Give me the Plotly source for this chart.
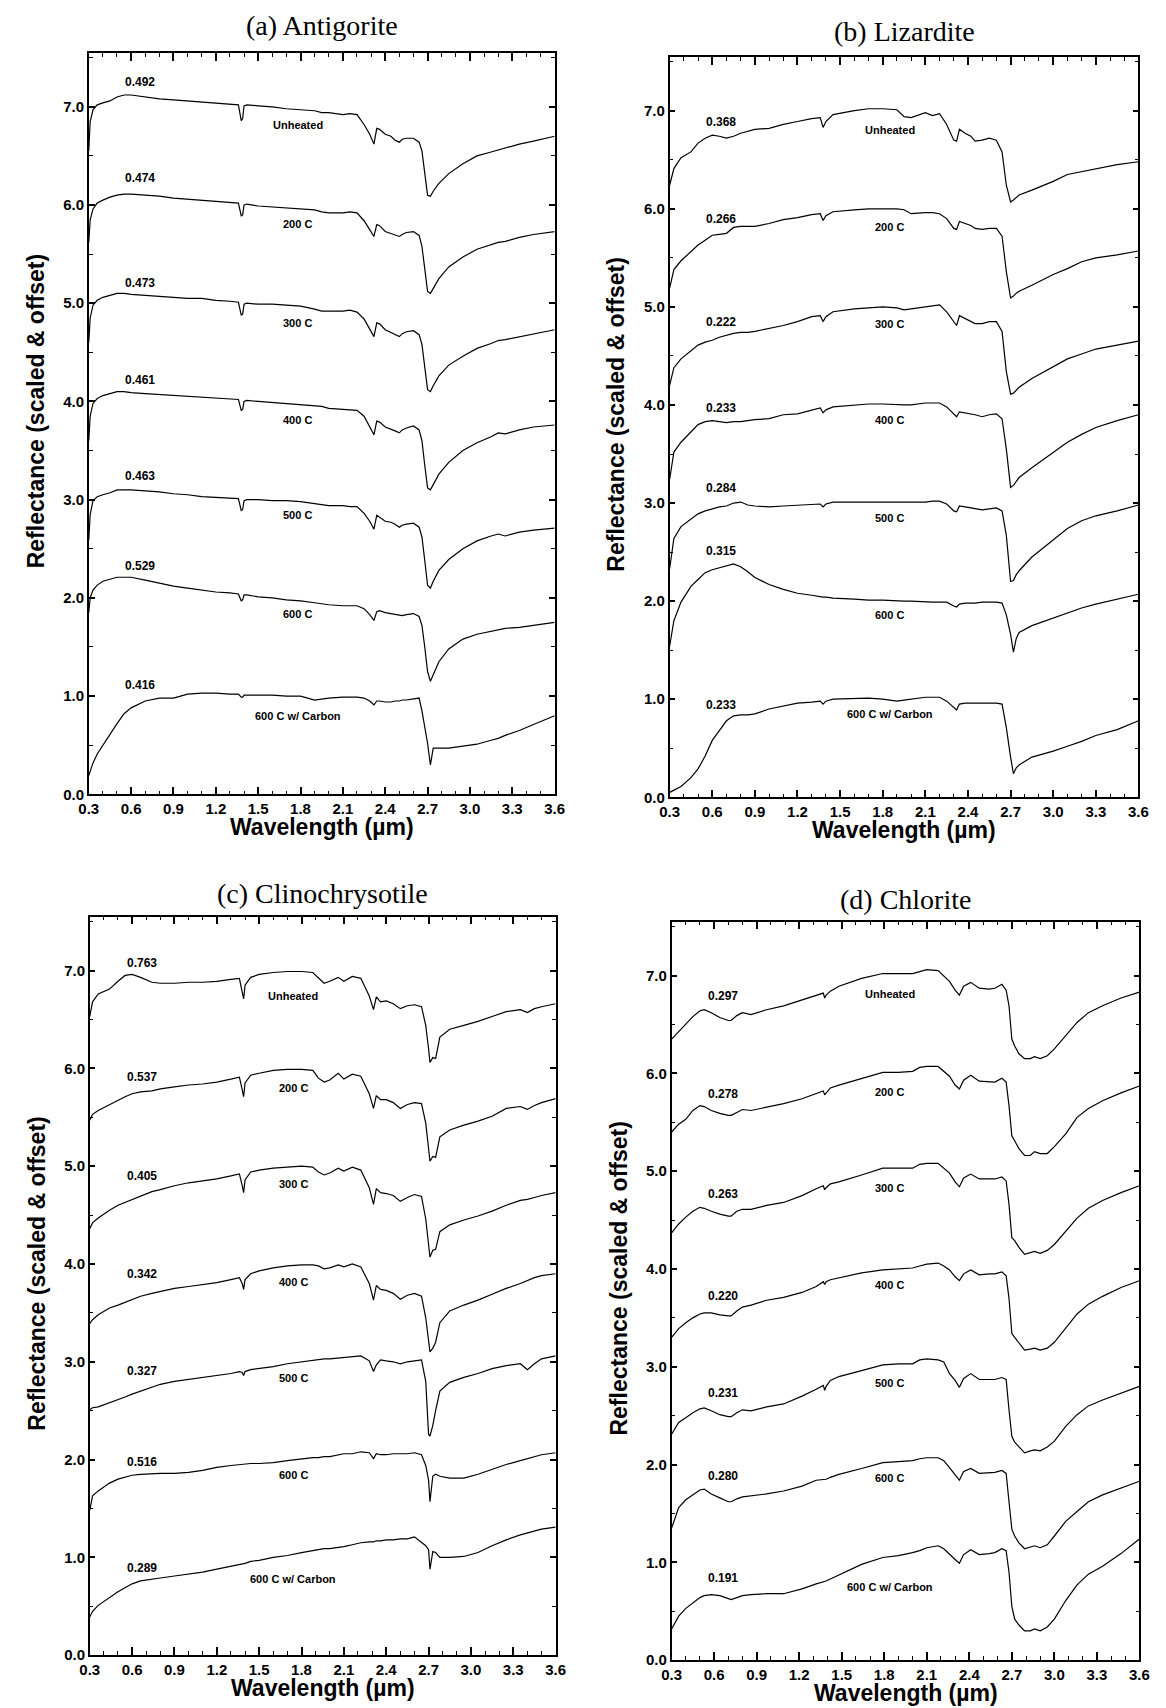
import plotly.graph_objects as go

# ---------------- data ----------------
TEMPS = ["Unheated", "200 C", "300 C", "400 C", "500 C", "600 C", "600 C w/ Carbon"]

A_WL = [0.30, 0.31, 0.33, 0.36, 0.40, 0.45, 0.50, 0.55, 0.60, 0.70, 0.80, 0.90, 1.00, 1.10, 1.20, 1.30, 1.36, 1.38, 1.39, 1.40,
        1.42, 1.50, 1.60, 1.70, 1.80, 1.90, 1.95, 2.00, 2.10, 2.15, 2.20, 2.25, 2.29, 2.32, 2.34, 2.36, 2.40, 2.44, 2.47, 2.50,
        2.52, 2.55, 2.60, 2.64, 2.66, 2.68, 2.70, 2.72, 2.74, 2.78, 2.85, 2.95, 3.05, 3.15, 3.20, 3.25, 3.35, 3.45, 3.60]
A_UNH = [6.55, 6.85, 6.97, 7.02, 7.04, 7.06, 7.10, 7.12, 7.12, 7.10, 7.08, 7.07, 7.06, 7.05, 7.04, 7.03, 7.02, 6.86, 6.88, 7.01,
         7.02, 7.01, 7.00, 6.98, 6.97, 6.96, 6.94, 6.94, 6.92, 6.93, 6.92, 6.82, 6.72, 6.62, 6.78, 6.77, 6.72, 6.70, 6.66, 6.64,
         6.67, 6.68, 6.68, 6.64, 6.55, 6.30, 6.10, 6.09, 6.14, 6.22, 6.32, 6.42, 6.50, 6.54, 6.56, 6.58, 6.62, 6.65, 6.70]
A_200 = [5.62, 5.85, 5.96, 6.02, 6.05, 6.08, 6.10, 6.11, 6.11, 6.10, 6.09, 6.07, 6.06, 6.05, 6.04, 6.03, 6.02, 5.89, 5.90, 6.00,
         6.01, 5.99, 5.98, 5.97, 5.96, 5.95, 5.93, 5.92, 5.92, 5.93, 5.92, 5.84, 5.75, 5.68, 5.80, 5.79, 5.73, 5.71, 5.69, 5.68,
         5.70, 5.72, 5.73, 5.69, 5.58, 5.35, 5.12, 5.10, 5.15, 5.25, 5.37, 5.47, 5.55, 5.60, 5.62, 5.63, 5.67, 5.70, 5.73]
A_300 = [4.60, 4.85, 4.98, 5.03, 5.06, 5.08, 5.10, 5.10, 5.09, 5.08, 5.07, 5.06, 5.05, 5.05, 5.03, 5.02, 5.01, 4.88, 4.89, 4.99,
         5.00, 4.99, 4.99, 4.98, 4.97, 4.94, 4.92, 4.92, 4.92, 4.93, 4.91, 4.84, 4.74, 4.66, 4.80, 4.79, 4.73, 4.70, 4.68, 4.66,
         4.69, 4.71, 4.72, 4.68, 4.58, 4.35, 4.12, 4.10, 4.16, 4.26, 4.37, 4.46, 4.54, 4.59, 4.62, 4.63, 4.66, 4.69, 4.73]
A_400 = [3.60, 3.85, 3.98, 4.03, 4.06, 4.08, 4.10, 4.10, 4.09, 4.08, 4.07, 4.06, 4.05, 4.04, 4.03, 4.02, 4.02, 3.91, 3.92, 4.00,
         4.01, 4.00, 3.99, 3.98, 3.97, 3.96, 3.95, 3.93, 3.92, 3.92, 3.91, 3.85, 3.75, 3.66, 3.80, 3.79, 3.74, 3.72, 3.70, 3.68,
         3.71, 3.73, 3.75, 3.71, 3.60, 3.35, 3.12, 3.10, 3.15, 3.26, 3.38, 3.50, 3.58, 3.64, 3.68, 3.67, 3.71, 3.74, 3.76]
A_500 = [2.59, 2.85, 2.99, 3.03, 3.05, 3.07, 3.10, 3.10, 3.10, 3.09, 3.08, 3.06, 3.05, 3.03, 3.02, 3.01, 3.01, 2.89, 2.90, 2.99,
         3.00, 3.00, 2.99, 2.99, 2.98, 2.96, 2.95, 2.94, 2.94, 2.93, 2.93, 2.86, 2.78, 2.70, 2.84, 2.82, 2.78, 2.77, 2.75, 2.72,
         2.74, 2.75, 2.76, 2.72, 2.62, 2.38, 2.13, 2.10, 2.17, 2.28, 2.39, 2.50, 2.58, 2.63, 2.65, 2.63, 2.67, 2.69, 2.71]
A_600 = [1.85, 2.00, 2.08, 2.13, 2.17, 2.19, 2.21, 2.21, 2.21, 2.18, 2.15, 2.12, 2.10, 2.08, 2.06, 2.05, 2.04, 1.97, 1.98, 2.03,
         2.03, 2.01, 2.00, 1.98, 1.97, 1.95, 1.94, 1.93, 1.92, 1.92, 1.92, 1.89, 1.83, 1.77, 1.86, 1.87, 1.85, 1.84, 1.83, 1.82,
         1.82, 1.83, 1.84, 1.81, 1.72, 1.50, 1.25, 1.15, 1.22, 1.35, 1.48, 1.58, 1.63, 1.66, 1.67, 1.69, 1.70, 1.72, 1.75]
A_CARB = [0.19, 0.24, 0.32, 0.41, 0.50, 0.62, 0.72, 0.82, 0.88, 0.95, 0.98, 0.98, 1.02, 1.03, 1.03, 1.02, 1.02, 0.99, 0.99, 1.01,
          1.01, 1.01, 1.01, 1.00, 1.00, 0.96, 0.97, 0.98, 0.99, 0.99, 0.99, 0.98, 0.95, 0.91, 0.95, 0.95, 0.94, 0.94, 0.95, 0.95,
          0.96, 0.96, 0.97, 0.98, 0.85, 0.68, 0.52, 0.30, 0.47, 0.47, 0.47, 0.49, 0.51, 0.55, 0.57, 0.60, 0.65, 0.71, 0.80]
A_SCALE = ["0.492", "0.474", "0.473", "0.461", "0.463", "0.529", "0.416"]

B_WL = [0.30, 0.33, 0.38, 0.45, 0.50, 0.55, 0.60, 0.65, 0.70, 0.75, 0.80, 0.85, 0.90, 1.00, 1.10, 1.20, 1.30, 1.36, 1.38, 1.40,
        1.45, 1.60, 1.70, 1.80, 1.90, 1.95, 2.00, 2.10, 2.15, 2.20, 2.25, 2.30, 2.32, 2.34, 2.38, 2.42, 2.45, 2.50, 2.55, 2.60,
        2.64, 2.67, 2.70, 2.72, 2.74, 2.76, 2.85, 3.00, 3.10, 3.20, 3.30, 3.45, 3.60]
B_UNH = [6.24, 6.41, 6.52, 6.58, 6.67, 6.72, 6.75, 6.74, 6.72, 6.74, 6.77, 6.79, 6.81, 6.82, 6.86, 6.89, 6.92, 6.93, 6.83, 6.89,
         6.96, 7.00, 7.02, 7.02, 7.01, 6.94, 6.93, 6.98, 6.95, 6.97, 6.86, 6.70, 6.69, 6.81, 6.77, 6.74, 6.69, 6.70, 6.72, 6.70,
         6.58, 6.24, 6.07, 6.09, 6.12, 6.14, 6.19, 6.28, 6.35, 6.38, 6.41, 6.45, 6.48]
B_200 = [5.19, 5.38, 5.47, 5.56, 5.63, 5.68, 5.73, 5.74, 5.75, 5.81, 5.82, 5.82, 5.82, 5.85, 5.89, 5.91, 5.94, 5.95, 5.88, 5.93,
         5.97, 5.99, 6.00, 6.00, 6.00, 5.99, 5.95, 5.96, 5.96, 5.95, 5.90, 5.80, 5.79, 5.87, 5.85, 5.83, 5.80, 5.79, 5.80, 5.80,
         5.72, 5.36, 5.09, 5.11, 5.14, 5.16, 5.22, 5.33, 5.39, 5.46, 5.50, 5.53, 5.57]
B_300 = [4.20, 4.38, 4.47, 4.55, 4.61, 4.64, 4.66, 4.69, 4.71, 4.73, 4.74, 4.74, 4.75, 4.78, 4.81, 4.85, 4.90, 4.91, 4.85, 4.90,
         4.95, 4.98, 4.99, 5.00, 4.99, 4.97, 4.98, 5.00, 5.01, 5.02, 4.95, 4.85, 4.81, 4.91, 4.88, 4.85, 4.83, 4.83, 4.85, 4.85,
         4.75, 4.34, 4.11, 4.12, 4.15, 4.18, 4.27, 4.39, 4.47, 4.52, 4.57, 4.61, 4.65]
B_400 = [3.24, 3.52, 3.62, 3.72, 3.80, 3.83, 3.84, 3.83, 3.82, 3.83, 3.83, 3.84, 3.85, 3.86, 3.90, 3.91, 3.95, 3.97, 3.92, 3.95,
         3.98, 4.00, 4.01, 4.01, 4.00, 4.00, 4.00, 4.02, 4.02, 4.02, 3.98, 3.91, 3.88, 3.93, 3.92, 3.91, 3.90, 3.88, 3.90, 3.91,
         3.86, 3.55, 3.16, 3.18, 3.22, 3.26, 3.36, 3.52, 3.62, 3.70, 3.77, 3.84, 3.90]
B_500 = [2.33, 2.64, 2.76, 2.84, 2.89, 2.92, 2.94, 2.96, 2.97, 3.00, 3.01, 2.98, 2.97, 2.96, 2.97, 2.98, 2.99, 2.99, 2.96, 2.99,
         3.01, 3.01, 3.01, 3.01, 3.01, 3.01, 3.01, 3.01, 3.02, 3.02, 2.99, 2.92, 2.91, 2.97, 2.96, 2.95, 2.94, 2.93, 2.94, 2.95,
         2.92, 2.67, 2.20, 2.21, 2.27, 2.31, 2.45, 2.62, 2.74, 2.82, 2.87, 2.92, 2.98]
B_600 = [1.54, 1.80, 1.99, 2.15, 2.22, 2.29, 2.32, 2.34, 2.36, 2.38, 2.35, 2.30, 2.24, 2.17, 2.12, 2.08, 2.06, 2.04, 2.04, 2.04,
         2.03, 2.02, 2.01, 2.01, 2.00, 2.00, 2.00, 1.99, 1.99, 1.99, 1.99, 1.95, 1.94, 1.97, 1.98, 1.98, 1.98, 1.99, 1.99, 1.99,
         1.98, 1.86, 1.66, 1.48, 1.62, 1.68, 1.75, 1.83, 1.88, 1.93, 1.97, 2.02, 2.07]
B_CARB = [0.05, 0.07, 0.11, 0.20, 0.29, 0.42, 0.58, 0.68, 0.78, 0.83, 0.84, 0.84, 0.85, 0.90, 0.93, 0.96, 0.97, 0.98, 0.95, 0.98,
          1.00, 1.01, 1.01, 1.00, 0.98, 0.99, 1.00, 1.02, 1.02, 1.02, 0.98, 0.92, 0.89, 0.95, 0.96, 0.96, 0.96, 0.96, 0.96, 0.96,
          0.95, 0.71, 0.41, 0.24, 0.30, 0.33, 0.41, 0.47, 0.52, 0.57, 0.63, 0.69, 0.78]
B_SCALE = ["0.368", "0.266", "0.222", "0.233", "0.284", "0.315", "0.233"]

C_WL = [0.30, 0.32, 0.36, 0.44, 0.50, 0.55, 0.60, 0.66, 0.74, 0.80, 0.90, 1.00, 1.10, 1.20, 1.30, 1.36, 1.38, 1.39, 1.40, 1.44,
        1.50, 1.60, 1.70, 1.80, 1.88, 1.92, 1.96, 2.00, 2.06, 2.10, 2.16, 2.22, 2.28, 2.31, 2.33, 2.36, 2.40, 2.45, 2.50, 2.55,
        2.60, 2.65, 2.68, 2.70, 2.71, 2.73, 2.75, 2.78, 2.85, 2.95, 3.05, 3.15, 3.25, 3.35, 3.40, 3.45, 3.50, 3.60]
C_UNH = [6.53, 6.68, 6.76, 6.81, 6.89, 6.95, 6.96, 6.93, 6.88, 6.87, 6.87, 6.88, 6.88, 6.89, 6.91, 6.92, 6.78, 6.71, 6.85, 6.93,
         6.96, 6.98, 6.99, 6.99, 6.98, 6.92, 6.87, 6.89, 6.93, 6.89, 6.94, 6.92, 6.74, 6.60, 6.73, 6.68, 6.69, 6.66, 6.61, 6.64,
         6.65, 6.63, 6.44, 6.20, 6.06, 6.11, 6.10, 6.32, 6.40, 6.44, 6.48, 6.53, 6.58, 6.60, 6.57, 6.61, 6.63, 6.66]
C_200 = [5.47, 5.53, 5.57, 5.63, 5.67, 5.71, 5.74, 5.76, 5.77, 5.79, 5.81, 5.83, 5.84, 5.86, 5.89, 5.91, 5.78, 5.71, 5.85, 5.93,
         5.95, 5.98, 5.99, 5.99, 5.98, 5.90, 5.86, 5.88, 5.95, 5.89, 5.94, 5.92, 5.74, 5.59, 5.72, 5.68, 5.68, 5.65, 5.59, 5.63,
         5.65, 5.64, 5.44, 5.20, 5.05, 5.10, 5.09, 5.30, 5.37, 5.42, 5.46, 5.51, 5.59, 5.61, 5.58, 5.62, 5.65, 5.69]
C_300 = [4.36, 4.42, 4.47, 4.55, 4.60, 4.63, 4.66, 4.70, 4.74, 4.76, 4.80, 4.83, 4.85, 4.87, 4.90, 4.92, 4.80, 4.73, 4.86, 4.94,
         4.96, 4.98, 4.99, 5.00, 4.99, 4.94, 4.91, 4.93, 4.98, 4.95, 4.99, 4.96, 4.78, 4.61, 4.77, 4.73, 4.72, 4.70, 4.64, 4.68,
         4.71, 4.69, 4.46, 4.20, 4.07, 4.14, 4.15, 4.33, 4.40, 4.45, 4.49, 4.54, 4.60, 4.65, 4.66, 4.68, 4.70, 4.73]
C_400 = [3.39, 3.43, 3.48, 3.55, 3.58, 3.61, 3.64, 3.67, 3.70, 3.72, 3.75, 3.77, 3.79, 3.81, 3.84, 3.86, 3.80, 3.74, 3.84, 3.90,
         3.93, 3.96, 3.98, 3.99, 3.99, 3.98, 3.95, 3.96, 3.99, 3.97, 4.00, 3.97, 3.80, 3.63, 3.78, 3.74, 3.73, 3.70, 3.64, 3.68,
         3.70, 3.67, 3.45, 3.20, 3.10, 3.14, 3.20, 3.40, 3.52, 3.58, 3.63, 3.69, 3.75, 3.80, 3.83, 3.86, 3.88, 3.90]
C_500 = [2.51, 2.53, 2.54, 2.58, 2.61, 2.64, 2.67, 2.70, 2.74, 2.77, 2.80, 2.82, 2.84, 2.86, 2.88, 2.90, 2.89, 2.86, 2.90, 2.92,
         2.93, 2.95, 2.98, 3.00, 3.01, 3.02, 3.03, 3.03, 3.04, 3.04, 3.05, 3.06, 3.01, 2.90, 2.97, 3.02, 3.01, 3.00, 2.98, 3.00,
         3.01, 3.02, 2.80, 2.26, 2.24, 2.35, 2.50, 2.70, 2.79, 2.84, 2.88, 2.93, 2.96, 2.98, 2.92, 2.98, 3.03, 3.06]
C_600 = [1.48, 1.63, 1.68, 1.76, 1.80, 1.82, 1.84, 1.85, 1.86, 1.86, 1.86, 1.87, 1.89, 1.92, 1.94, 1.95, 1.95, 1.95, 1.95, 1.96,
         1.96, 1.97, 1.99, 2.01, 2.02, 2.02, 2.03, 2.03, 2.05, 2.06, 2.06, 2.08, 2.07, 2.01, 2.06, 2.05, 2.05, 2.06, 2.06, 2.06,
         2.07, 2.05, 1.94, 1.79, 1.57, 1.83, 1.85, 1.83, 1.81, 1.81, 1.85, 1.90, 1.95, 1.99, 2.01, 2.03, 2.05, 2.07]
C_CARB = [0.39, 0.45, 0.51, 0.59, 0.65, 0.69, 0.73, 0.76, 0.78, 0.79, 0.81, 0.83, 0.85, 0.88, 0.91, 0.93, 0.93, 0.94, 0.94, 0.96,
          0.97, 1.00, 1.02, 1.05, 1.07, 1.08, 1.09, 1.09, 1.10, 1.11, 1.13, 1.15, 1.16, 1.16, 1.17, 1.17, 1.18, 1.18, 1.19, 1.19,
          1.21, 1.15, 1.12, 1.08, 0.88, 1.06, 1.05, 1.00, 1.00, 1.01, 1.05, 1.12, 1.18, 1.23, 1.25, 1.27, 1.29, 1.31]
C_SCALE = ["0.763", "0.537", "0.405", "0.342", "0.327", "0.516", "0.289"]

D_WL = [0.30, 0.35, 0.40, 0.45, 0.50, 0.53, 0.58, 0.64, 0.70, 0.72, 0.76, 0.80, 0.86, 0.97, 1.09, 1.22, 1.32, 1.37, 1.38, 1.39,
        1.42, 1.48, 1.64, 1.79, 1.90, 2.00, 2.05, 2.10, 2.18, 2.22, 2.26, 2.30, 2.33, 2.36, 2.41, 2.47, 2.54, 2.58, 2.63, 2.66,
        2.68, 2.70, 2.72, 2.75, 2.79, 2.83, 2.86, 2.90, 2.95, 3.00, 3.08, 3.16, 3.24, 3.34, 3.47, 3.60]
D_UNH = [6.35, 6.43, 6.50, 6.58, 6.64, 6.65, 6.62, 6.57, 6.54, 6.54, 6.59, 6.62, 6.60, 6.65, 6.69, 6.75, 6.80, 6.82, 6.77, 6.80,
         6.84, 6.89, 6.97, 7.02, 7.02, 7.02, 7.04, 7.06, 7.05, 6.99, 6.94, 6.85, 6.80, 6.89, 6.93, 6.87, 6.86, 6.87, 6.91, 6.85,
         6.69, 6.35, 6.28, 6.20, 6.15, 6.15, 6.17, 6.15, 6.18, 6.25, 6.38, 6.52, 6.62, 6.69, 6.77, 6.83]
D_200 = [5.40, 5.48, 5.53, 5.62, 5.67, 5.66, 5.62, 5.59, 5.57, 5.57, 5.60, 5.63, 5.62, 5.65, 5.69, 5.74, 5.79, 5.82, 5.78, 5.80,
         5.85, 5.88, 5.95, 6.01, 6.01, 6.02, 6.06, 6.07, 6.07, 6.02, 5.97, 5.88, 5.84, 5.93, 5.98, 5.92, 5.91, 5.91, 5.95, 5.91,
         5.67, 5.36, 5.31, 5.23, 5.16, 5.16, 5.20, 5.18, 5.18, 5.25, 5.38, 5.55, 5.64, 5.72, 5.80, 5.87]
D_300 = [4.37, 4.46, 4.53, 4.59, 4.63, 4.62, 4.59, 4.56, 4.54, 4.54, 4.59, 4.61, 4.61, 4.65, 4.68, 4.75, 4.82, 4.85, 4.81, 4.83,
         4.87, 4.89, 4.96, 5.03, 5.03, 5.03, 5.07, 5.08, 5.08, 5.03, 4.98, 4.89, 4.84, 4.93, 4.97, 4.92, 4.92, 4.92, 4.94, 4.90,
         4.66, 4.32, 4.29, 4.22, 4.15, 4.17, 4.18, 4.16, 4.19, 4.25, 4.39, 4.52, 4.62, 4.70, 4.78, 4.85]
D_400 = [3.30, 3.39, 3.45, 3.50, 3.54, 3.55, 3.55, 3.53, 3.52, 3.52, 3.57, 3.61, 3.63, 3.68, 3.71, 3.76, 3.82, 3.87, 3.84, 3.87,
         3.89, 3.91, 3.96, 3.99, 4.00, 4.01, 4.03, 4.05, 4.06, 4.03, 3.99, 3.92, 3.88, 3.95, 3.99, 3.94, 3.95, 3.95, 3.97, 3.93,
         3.70, 3.34, 3.30, 3.24, 3.17, 3.18, 3.19, 3.17, 3.19, 3.25, 3.39, 3.54, 3.64, 3.72, 3.81, 3.88]
D_500 = [2.31, 2.43, 2.48, 2.53, 2.57, 2.58, 2.55, 2.51, 2.49, 2.49, 2.53, 2.56, 2.55, 2.59, 2.62, 2.70, 2.77, 2.81, 2.76, 2.80,
         2.86, 2.90, 2.96, 3.02, 3.03, 3.03, 3.07, 3.08, 3.07, 3.05, 2.93, 2.86, 2.79, 2.88, 2.93, 2.87, 2.87, 2.87, 2.89, 2.87,
         2.56, 2.29, 2.23, 2.18, 2.12, 2.14, 2.15, 2.14, 2.18, 2.24, 2.39, 2.51, 2.60, 2.66, 2.73, 2.80]
D_600 = [1.35, 1.56, 1.64, 1.69, 1.74, 1.75, 1.70, 1.66, 1.62, 1.62, 1.65, 1.67, 1.68, 1.70, 1.73, 1.78, 1.84, 1.85, 1.85, 1.85,
         1.87, 1.90, 1.96, 2.02, 2.03, 2.04, 2.06, 2.07, 2.07, 2.04, 1.97, 1.89, 1.84, 1.93, 1.96, 1.91, 1.92, 1.92, 1.94, 1.91,
         1.62, 1.34, 1.27, 1.20, 1.14, 1.16, 1.17, 1.15, 1.18, 1.27, 1.42, 1.52, 1.62, 1.69, 1.76, 1.83]
D_CARB = [0.32, 0.45, 0.53, 0.59, 0.64, 0.66, 0.67, 0.66, 0.63, 0.62, 0.64, 0.66, 0.67, 0.68, 0.68, 0.73, 0.78, 0.80, 0.80, 0.81,
          0.83, 0.87, 0.98, 1.05, 1.07, 1.10, 1.12, 1.15, 1.17, 1.14, 1.09, 1.03, 0.99, 1.08, 1.13, 1.08, 1.09, 1.10, 1.14, 1.12,
          0.90, 0.55, 0.42, 0.36, 0.30, 0.30, 0.32, 0.30, 0.34, 0.42, 0.61, 0.77, 0.88, 0.96, 1.09, 1.24]
D_SCALE = ["0.297", "0.278", "0.263", "0.220", "0.231", "0.280", "0.191"]

X_TICKS = [0.3, 0.6, 0.9, 1.2, 1.5, 1.8, 2.1, 2.4, 2.7, 3.0, 3.3, 3.6]
Y_TICKS = [0.0, 1.0, 2.0, 3.0, 4.0, 5.0, 6.0, 7.0]

PANELS = [
    dict(title="(a) Antigorite", wl=A_WL, series=[A_UNH, A_200, A_300, A_400, A_500, A_600, A_CARB], scale=A_SCALE),
    dict(title="(b) Lizardite", wl=B_WL, series=[B_UNH, B_200, B_300, B_400, B_500, B_600, B_CARB], scale=B_SCALE),
    dict(title="(c) Clinochrysotile", wl=C_WL, series=[C_UNH, C_200, C_300, C_400, C_500, C_600, C_CARB], scale=C_SCALE),
    dict(title="(d) Chlorite", wl=D_WL, series=[D_UNH, D_200, D_300, D_400, D_500, D_600, D_CARB], scale=D_SCALE),
]

# ---------------- layout (pixel geometry) ----------------
W, H = 1166, 1708
BOXES = [  # left, right, top, bottom in px
    (72, 546, 45, 790),
    (663, 1140, 49, 793),
    (73, 547, 913, 1655),
    (665, 1141, 918, 1660),
]
TITLE_GAP = [27, 25, 23, 22]
LABEL_POS = [  # x of scale label, its y list, x of temp label, its y list
    (0.66, [7.25, 6.27, 5.21, 4.22, 3.24, 2.32, 1.11], 1.78, [6.81, 5.81, 4.80, 3.81, 2.84, 1.84, 0.80]),
    (0.66, [6.88, 5.90, 4.85, 3.97, 3.15, 2.51, 0.94], 1.85, [6.80, 5.81, 4.83, 3.85, 2.85, 1.86, 0.85]),
    (0.67, [7.08, 5.91, 4.90, 3.90, 2.91, 1.98, 0.89], 1.74, [6.74, 5.80, 4.82, 3.82, 2.83, 1.84, 0.78]),
    (0.66, [6.79, 5.79, 4.77, 3.72, 2.73, 1.88, 0.84], 1.84, [6.81, 5.81, 4.83, 3.84, 2.83, 1.86, 0.75]),
]
YMAX = 7.55
SANS = "Liberation Sans, Arial, sans-serif"
SERIF = "Liberation Serif, Times New Roman, serif"

fig = go.Figure()
annotations = []
layout_axes = {}

for i, p in enumerate(PANELS):
    n = i + 1
    xk = "x" if n == 1 else f"x{n}"
    yk = "y" if n == 1 else f"y{n}"
    for s in p["series"]:
        assert len(s) == len(p["wl"])
        fig.add_trace(go.Scatter(x=p["wl"], y=s, mode="lines",
                                 line=dict(color="black", width=1.2),
                                 xaxis=xk, yaxis=yk, showlegend=False, hoverinfo="skip"))
    l, r, t, b = BOXES[i]
    xdom = [l / W, r / W]
    ydom = [(H - b) / H, (H - t) / H]
    common = dict(showline=True, linecolor="black", linewidth=1.5, mirror="allticks",
                  ticks="inside", tickcolor="black", tickwidth=1.5, showgrid=False, zeroline=False,
                  tickfont=dict(family=SANS, size=15, color="black", weight="bold"))
    layout_axes["xaxis" if n == 1 else f"xaxis{n}"] = dict(
        domain=xdom, range=[0.3, 3.6], anchor=yk, tickvals=X_TICKS,
        ticktext=[f"{v:.1f}" for v in X_TICKS], ticklen=8,
        minor=dict(dtick=0.1, tick0=0.3, ticks="inside", ticklen=4, tickcolor="black", tickwidth=1.2),
        **common)
    layout_axes["yaxis" if n == 1 else f"yaxis{n}"] = dict(
        domain=ydom, range=[0, YMAX], anchor=xk, tickvals=Y_TICKS,
        ticktext=[f"{v:.1f}" for v in Y_TICKS], ticklen=6,
        minor=dict(dtick=0.5, tick0=0, ticks="inside", ticklen=4, tickcolor="black", tickwidth=1.2),
        **common)
    # panel title
    annotations.append(dict(text=p["title"], xref="paper", yref="paper",
                            x=(l + r) / 2 / W, y=(H - (t - TITLE_GAP[i])) / H, xanchor="center", yanchor="middle",
                            showarrow=False, font=dict(family=SERIF, size=28, color="black")))
    # axis titles
    annotations.append(dict(text="Wavelength (\u00b5m)", xref="paper", yref="paper",
                            x=(l + r) / 2 / W, y=(H - (b + 33)) / H, xanchor="center", yanchor="middle",
                            showarrow=False, font=dict(family=SANS, size=23, color="black", weight="bold")))
    annotations.append(dict(text="Reflectance (scaled & offset)", xref="paper", yref="paper",
                            x=(l - 54) / W, y=(H - (t + b) / 2 + 12) / H, xanchor="center", yanchor="middle",
                            textangle=-90, showarrow=False,
                            font=dict(family=SANS, size=23, color="black", weight="bold")))
    sx, sys, tx, tys = LABEL_POS[i]
    for k in range(7):
        annotations.append(dict(text=p["scale"][k], x=sx, y=sys[k], xref=xk, yref=yk, showarrow=False,
                                font=dict(family=SANS, size=12, color="black", weight="bold")))
        annotations.append(dict(text=TEMPS[k], x=tx, y=tys[k], xref=xk, yref=yk, showarrow=False,
                                font=dict(family=SANS, size=11, color="black", weight="bold")))

fig.update_layout(width=W, height=H, margin=dict(l=0, r=0, t=0, b=0),
                  paper_bgcolor="white", plot_bgcolor="white",
                  annotations=annotations, **layout_axes)
fig.write_html("out.html")
